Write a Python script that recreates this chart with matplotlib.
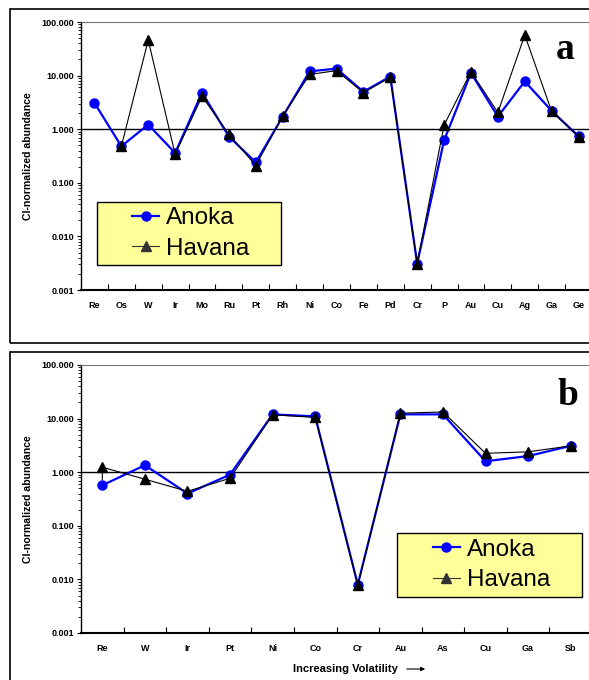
import numpy as np
import matplotlib
matplotlib.use('Agg')
import matplotlib.pyplot as plt
from matplotlib.patches import Rectangle, FancyArrowPatch
from matplotlib.ticker import FixedLocator, FormatStrFormatter, LogLocator, NullFormatter

plt.rcParams['font.family'] = ['Liberation Sans', 'DejaVu Sans']

# panel a data
elements_a = ['Re', 'Os', 'W', 'Ir', 'Mo', 'Ru', 'Pt', 'Rh', 'Ni', 'Co', 'Fe', 'Pd', 'Cr',
              'P', 'Au', 'Cu', 'Ag', 'Ga', 'Ge']
anoka_a = [3.1, 0.48, 1.22, 0.36, 4.8, 0.73, 0.24, 1.72, 12.0, 13.5, 5.0, 9.6, 0.0031,
           0.62, 11.2, 1.72, 7.8, 2.2, 0.74]
havana_a = [None, 0.48, 46.0, 0.34, 4.1, 0.80, 0.21, 1.75, 10.5, 12.4, 4.8, 9.3, 0.0031,
            1.19, 11.8, 2.05, 57.0, 2.15, 0.72]

# panel b data
elements_b = ['Re', 'W', 'Ir', 'Pt', 'Ni', 'Co', 'Cr', 'Au', 'As', 'Cu', 'Ga', 'Sb']
anoka_b = [0.57, 1.35, 0.40, 0.90, 12.0, 11.0, 0.0080, 12.0, 12.0, 1.6, 2.0, 3.1]
havana_b = [1.24, 0.74, 0.44, 0.77, 11.8, 10.5, 0.0078, 12.6, 13.3, 2.25, 2.4, 3.1]

W, H = 589, 680
fig = plt.figure(figsize=(W / 100, H / 100), dpi=100)


def fx(px):
    return px / W


def fy(py):
    return 1 - py / H


# outer boxes round each panel
for top, bot in [(9, 343), (352, 700)]:
    fig.patches.append(Rectangle((fx(10), fy(bot)), fx(620), (bot - top) / H,
                                 transform=fig.transFigure, fill=False,
                                 edgecolor='black', lw=1.2, clip_on=False))


def panel(rect, names, anoka, havana, leg_box):
    ax = fig.add_axes(rect)
    x = np.arange(len(names))
    ha = np.array([np.nan if v is None else v for v in havana], dtype=float)
    ax.axhline(1.0, color='black', lw=1.0, zorder=1)
    ax.plot(x, anoka, '-o', color='blue', lw=1.6, ms=6.5, label='Anoka', zorder=3)
    ax.plot(x, ha, '-^', color='black', lw=0.8, ms=6.5, label='Havana', zorder=4)
    ax.set_yscale('log')
    ax.set_ylim(0.001, 100)
    ax.set_xlim(-0.5, len(names) - 0.5)
    ax.yaxis.set_major_locator(FixedLocator([0.001, 0.01, 0.1, 1, 10, 100]))
    ax.yaxis.set_major_formatter(FormatStrFormatter('%.3f'))
    ax.yaxis.set_minor_locator(LogLocator(base=10, subs=np.arange(2, 10)))
    ax.yaxis.set_minor_formatter(NullFormatter())
    ax.set_xticks(x)
    ax.set_xticklabels(names)
    ax.xaxis.set_minor_locator(FixedLocator(x[:-1] + 0.5))
    ax.tick_params(axis='x', which='major', length=0, pad=8, labelsize=6.5)
    ax.tick_params(axis='x', which='minor', direction='in', length=4, width=0.8)
    ax.tick_params(axis='y', which='major', direction='out', length=3, width=0.8, labelsize=6.5, pad=2)
    ax.tick_params(axis='y', which='minor', direction='out', length=2, width=0.6)
    for lab in ax.get_xticklabels() + ax.get_yticklabels():
        lab.set_fontweight('bold')
    ax.spines['right'].set_visible(False)
    ax.spines['top'].set_color('#777777')
    ax.spines['bottom'].set_linewidth(1.5)
    ax.spines['left'].set_linewidth(1.0)
    ax.set_ylabel('CI-normalized abundance', fontsize=7.6, fontweight='bold', labelpad=6)
    ax.patch.set_alpha(0)

    # yellow legend box, drawn by hand so its padding matches
    x0, y0, x1, y1 = leg_box
    ax.add_patch(Rectangle((fx(x0), fy(y1)), fx(x1 - x0), (y1 - y0) / H,
                           transform=fig.transFigure, facecolor='#FFFF99',
                           edgecolor='black', lw=1.0, zorder=5, clip_on=False))
    leg = ax.legend(loc='center', bbox_to_anchor=(fx((x0 + x1) / 2 + 2), fy((y0 + y1) / 2)),
                    bbox_transform=fig.transFigure, fontsize=17.5, frameon=False,
                    handlelength=1.1, handletextpad=0.3, borderpad=0,
                    labelspacing=0.35, borderaxespad=0)
    leg.set_zorder(6)
    leg.get_lines()[1].set_color('#333333')
    return ax


ax_a = panel([fx(81), fy(290), fx(511), 268 / H], elements_a, anoka_a, havana_a, (97, 202, 281, 265))
ax_b = panel([fx(81), fy(633), fx(511), 268 / H], elements_b, anoka_b, havana_b, (397, 533, 582, 597))

# small upward arrow under the Havana Re point in panel b
ax_b.annotate('', xy=(0, havana_b[0] * 0.97), xytext=(0, 0.72),
              arrowprops=dict(arrowstyle='-|>', lw=0.8, color='black', mutation_scale=5,
                              shrinkA=0, shrinkB=0), zorder=2)

fig.text(fx(565), fy(59), 'a', family='Liberation Serif', fontweight='bold', fontsize=27,
         ha='center', va='baseline')
fig.text(fx(568), fy(405), 'b', family='Liberation Serif', fontweight='bold', fontsize=27,
         ha='center', va='baseline')

fig.text(fx(293), fy(672), 'Increasing Volatility', fontsize=8, fontweight='bold',
         ha='left', va='baseline')
fig.add_artist(FancyArrowPatch((fx(404), fy(669)), (fx(428), fy(669)),
                               transform=fig.transFigure, arrowstyle='-|>',
                               mutation_scale=6, lw=0.8, color='black'))

fig.savefig('out.png', dpi=100)
